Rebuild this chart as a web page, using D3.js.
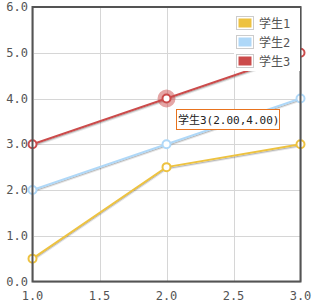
<!DOCTYPE html>
<html><head><meta charset="utf-8">
<script src="https://cdn.jsdelivr.net/npm/d3@7"></script>
<style>
body{margin:0;background:#fff;}
svg{display:block;}
</style></head>
<body>
<script>
const seriesNames = ["学生1","学生2","学生3"];
const colors = ["#edc240","#afd8f8","#cb4b4b"];
const xValues = [1,2,3];
const s1 = [0.5,2.5,3];
const s2 = [2,3,4];
const s3 = [3,4,5];
const xTicks = [1.0,1.5,2.0,2.5,3.0];
const yTicks = [0,1,2,3,4,5,6];
const highlight = {series:2, index:1};

const W=317,H=307;
const svg = d3.select("body").append("svg").attr("width",W).attr("height",H);
const x = d3.scaleLinear().domain([1,3]).range([32.5,300.5]);
const y = d3.scaleLinear().domain([0,6]).range([281.5,7]);
const mono = "'DejaVu Sans Mono','Noto Sans CJK SC',monospace";

// grid
const g = svg.append("g");
g.selectAll(".gx").data(xTicks).join("line")
 .attr("x1",d=>Math.round(x(d))+0.5).attr("x2",d=>Math.round(x(d))+0.5)
 .attr("y1",y(6)).attr("y2",y(0)).attr("stroke","#d6d6d6").attr("stroke-width",1);
g.selectAll(".gy").data(yTicks).join("line")
 .attr("y1",d=>Math.round(y(d))+0.5).attr("y2",d=>Math.round(y(d))+0.5)
 .attr("x1",x(1)).attr("x2",x(3)).attr("stroke","#d6d6d6").attr("stroke-width",1);

// tick labels
svg.selectAll(".xl").data(xTicks).join("text")
 .attr("x",d=>x(d)).attr("y",300).attr("text-anchor","middle")
 .attr("font-family",mono).attr("font-size",12).attr("fill","#545454")
 .text(d=>d.toFixed(1));
svg.selectAll(".yl").data(yTicks).join("text")
 .attr("x",28).attr("y",d=>y(d)+4).attr("text-anchor","end")
 .attr("font-family",mono).attr("font-size",12).attr("fill","#545454")
 .text(d=>d.toFixed(1));

const data = [s1,s2,s3].map((vals,i)=>({name:seriesNames[i],color:colors[i],pts:xValues.map((xv,j)=>[xv,vals[j]])}));
const line = d3.line().x(d=>x(d[0])).y(d=>y(d[1]));

// shadows
data.forEach(s=>{
  svg.append("path").attr("d",line(s.pts)).attr("fill","none")
   .attr("stroke","rgba(0,0,0,0.1)").attr("stroke-width",2).attr("transform","translate(0,2)");
  svg.append("path").attr("d",line(s.pts)).attr("fill","none")
   .attr("stroke","rgba(0,0,0,0.2)").attr("stroke-width",1).attr("transform","translate(0,1.5)");
});
data.forEach(s=>{
  svg.append("path").attr("d",line(s.pts)).attr("fill","none")
   .attr("stroke",s.color).attr("stroke-width",2);
});
// highlight halo
const hp = data[highlight.series].pts[highlight.index];
svg.append("circle").attr("cx",x(hp[0])).attr("cy",y(hp[1])).attr("r",6.5)
 .attr("fill","none").attr("stroke",colors[highlight.series]).attr("stroke-opacity",0.5).attr("stroke-width",5);
data.forEach(s=>{
  svg.selectAll(null).data(s.pts).join("circle")
   .attr("cx",d=>x(d[0])).attr("cy",d=>y(d[1])).attr("r",4)
   .attr("fill","#fff").attr("stroke",s.color).attr("stroke-width",2);
});

// border
svg.append("rect").attr("x",x(1)).attr("y",y(6)).attr("width",x(3)-x(1)).attr("height",y(0)-y(6))
 .attr("fill","none").attr("stroke","#545454").attr("stroke-width",2);

// legend
const lg = svg.append("g");
lg.append("rect").attr("x",234).attr("y",8).attr("width",66).attr("height",63).attr("fill","#fff");
data.forEach((s,i)=>{
  const yy = 16 + i*19;
  lg.append("rect").attr("x",236.5).attr("y",yy+0.5).attr("width",17).attr("height",13)
   .attr("fill","#fff").attr("stroke","#ccc").attr("stroke-width",1);
  lg.append("rect").attr("x",238.5).attr("y",yy+2.5).attr("width",13).attr("height",9).attr("fill",s.color);
  lg.append("text").attr("x",259).attr("y",yy+11.5).attr("font-family",mono).attr("font-size",12)
   .attr("fill","#545454").text(s.name);
});

// tooltip
const tt = svg.append("g");
tt.append("rect").attr("x",176.5).attr("y",109.5).attr("width",103).attr("height",20)
 .attr("fill","#fff").attr("stroke","#e8731e").attr("stroke-width",1);
tt.append("text").attr("x",178).attr("y",124).attr("font-family",mono).attr("font-size",11)
 .attr("fill","#222").text(`${data[highlight.series].name}(${hp[0].toFixed(2)},${hp[1].toFixed(2)})`);
</script>
</body></html>
